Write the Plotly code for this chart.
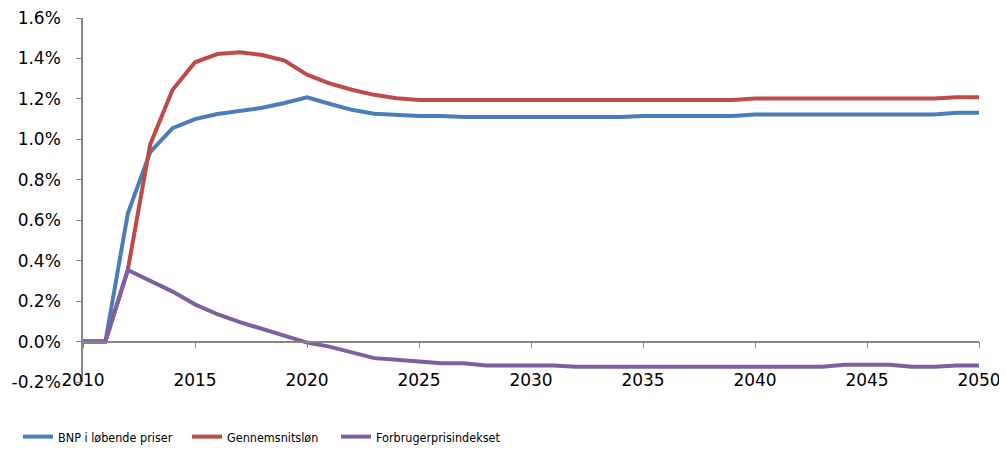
import plotly.graph_objects as go

years = list(range(2010, 2051))

bnp = [0.0, 0.0, 0.633, 0.937, 1.055, 1.100, 1.125, 1.140, 1.156, 1.180, 1.208,
       1.176, 1.146, 1.127, 1.122, 1.115, 1.115, 1.110, 1.110, 1.110, 1.110,
       1.110, 1.110, 1.110, 1.110, 1.115, 1.115, 1.115, 1.115, 1.115, 1.123,
       1.123, 1.123, 1.123, 1.123, 1.123, 1.123, 1.123, 1.123, 1.131, 1.131]

loen = [0.0, 0.0, 0.354, 0.975, 1.245, 1.381, 1.422, 1.430, 1.417, 1.389, 1.320,
        1.277, 1.245, 1.220, 1.203, 1.194, 1.194, 1.194, 1.194, 1.194, 1.194,
        1.194, 1.194, 1.194, 1.194, 1.194, 1.194, 1.194, 1.194, 1.194, 1.202,
        1.202, 1.202, 1.202, 1.202, 1.202, 1.202, 1.202, 1.202, 1.208, 1.208]

fpi = [0.0, 0.0, 0.354, 0.300, 0.247, 0.184, 0.135, 0.096, 0.063, 0.028, -0.005,
       -0.025, -0.052, -0.082, -0.090, -0.099, -0.107, -0.107, -0.118, -0.118, -0.118,
       -0.118, -0.125, -0.125, -0.125, -0.125, -0.125, -0.125, -0.125, -0.125, -0.125,
       -0.125, -0.125, -0.125, -0.115, -0.115, -0.115, -0.125, -0.125, -0.118, -0.118]

names = ["BNP i løbende priser", "Gennemsnitsløn", "Forbrugerprisindekset"]
colors = ["#4A7EBB", "#BE4B48", "#7D60A0"]
x_ticks = [2010, 2015, 2020, 2025, 2030, 2035, 2040, 2045, 2050]
y_ticks = [-0.2, 0.0, 0.2, 0.4, 0.6, 0.8, 1.0, 1.2, 1.4, 1.6]
y_ticktext = ["-0.2%", "0.0%", "0.2%", "0.4%", "0.6%", "0.8%", "1.0%", "1.2%", "1.4%", "1.6%"]

fig = go.Figure()
legend_ids = ["legend", "legend2", "legend3"]
for series, name, color, lg in zip([bnp, loen, fpi], names, colors, legend_ids):
    fig.add_trace(go.Scatter(x=years, y=series, name=name, mode="lines",
                             line=dict(color=color, width=4), legend=lg))

# invisible trace to carry the axis drawn at y = 0
fig.add_trace(go.Scatter(x=[2010], y=[0], xaxis="x2", mode="markers",
                         marker=dict(opacity=0), showlegend=False, hoverinfo="skip"))

# the page body has an 8px margin, so the figure is sized to fill the window
W, H = 999, 448
ymin, ymax = -0.2, 1.6
tick_font = dict(family="DejaVu Sans", size=17, color="#000000")
leg_font = dict(family="DejaVu Sans Condensed, DejaVu Sans", size=12.5, color="#000000")

def leg(xpx):
    return dict(orientation="h", xref="container", yref="container",
                x=xpx / W, xanchor="left", y=1 - 429 / H, yanchor="middle",
                font=leg_font, bgcolor="rgba(0,0,0,0)")

fig.update_layout(
    width=W, height=H,
    margin=dict(l=75, r=28, t=10, b=74, autoexpand=False),
    paper_bgcolor="white", plot_bgcolor="white",
    xaxis=dict(range=[2010, 2050], tickvals=x_ticks, showline=False, showgrid=False,
               zeroline=False, ticks="", tickfont=tick_font, automargin=False,
               ticklabelstandoff=-14, ticklabeloverflow="allow"),
    xaxis2=dict(range=[2010, 2050], overlaying="x", anchor="free",
                position=(0 - ymin) / (ymax - ymin), side="bottom",
                tickvals=x_ticks, showticklabels=False, ticks="outside", ticklen=6,
                tickcolor="#868686", showline=True, linecolor="#868686", linewidth=1.5,
                showgrid=False, zeroline=False, automargin=False),
    yaxis=dict(range=[ymin, ymax], tickvals=y_ticks, ticktext=y_ticktext,
               showline=True, linecolor="#868686", linewidth=1.5, ticks="outside",
               ticklen=5, tickcolor="#868686", showgrid=False, zeroline=False,
               tickfont=tick_font, ticklabelstandoff=12, automargin=False,
               ticklabeloverflow="allow"),
    legend=leg(10),
    legend2=leg(179),
    legend3=leg(328),
)

fig.write_html("out.html")
